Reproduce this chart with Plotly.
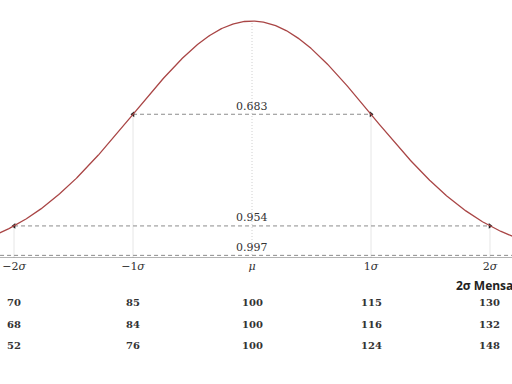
import numpy as np
import plotly.graph_objects as go

# ---- data ----
sigma_ticks = [-2, -1, 0, 1, 2]
tick_labels = ["\u22122<i>σ</i>", "\u22121<i>σ</i>", "<i>μ</i>", "1<i>σ</i>", "2<i>σ</i>"]
row_sd15 = [70, 85, 100, 115, 130]
row_sd16 = [68, 84, 100, 116, 132]
row_sd24 = [52, 76, 100, 124, 148]
interval_halfwidths = [1, 2, 3]
interval_labels = ["0.683", "0.954", "0.997"]
row_title = "2σ Mensa"

def pdf(z):
    return np.exp(-0.5 * np.asarray(z, dtype=float) ** 2) / np.sqrt(2 * np.pi)

XMIN, XMAX = -2.118, 2.185
YMAX = 0.43429

fig = go.Figure()

# vertical guide lines at ±1σ, ±2σ
for s in sigma_ticks:
    if s == 0:
        continue
    fig.add_trace(go.Scatter(x=[s, s], y=[0, float(pdf(s))], mode="lines",
                             line=dict(color="#e6e6e6", width=1), hoverinfo="skip", showlegend=False))
# dotted mean line
fig.add_trace(go.Scatter(x=[0, 0], y=[0, float(pdf(0))], mode="lines",
                         line=dict(color="#d0d0d0", width=1, dash="1px,2px"), hoverinfo="skip", showlegend=False))

# interval dashed lines with arrowheads
for k, lab in zip(interval_halfwidths, interval_labels):
    yk = float(pdf(k))
    fig.add_trace(go.Scatter(x=[-k, k], y=[yk, yk], mode="lines",
                             line=dict(color="#8c8c8c", width=1, dash="4px,3px"), hoverinfo="skip", showlegend=False))
    fig.add_trace(go.Scatter(x=[-k, k], y=[yk, yk], mode="markers",
                             marker=dict(symbol=["triangle-left", "triangle-right"], size=5, color="#222222"),
                             hoverinfo="skip", showlegend=False))
    fig.add_annotation(x=0, y=yk, text=lab, showarrow=False, yshift=8,
                       font=dict(family="DejaVu Serif", size=11, color="#333333"))

# bell curve
xs = np.linspace(XMIN - 0.05, XMAX + 0.05, 600)
fig.add_trace(go.Scatter(x=xs, y=pdf(xs), mode="lines",
                         line=dict(color="#a94545", width=1.3), hoverinfo="skip", showlegend=False))

# table rows below axis
row_offsets = [-44, -66, -87]
for row, off in zip([row_sd15, row_sd16, row_sd24], row_offsets):
    for s, v in zip(sigma_ticks, row):
        fig.add_annotation(x=s, y=0, yref="y", text="<b>" + str(v) + "</b>", showarrow=False, yshift=off,
                           font=dict(family="DejaVu Serif", size=10, color="#333333"))
fig.add_annotation(x=1.70, y=0, xanchor="left", text="<b>" + row_title + "</b>", showarrow=False, yshift=-27,
                   font=dict(family="Open Sans", size=12, color="#222222"))

fig.update_layout(
    width=512, height=384,
    margin=dict(l=0, r=0, t=0, b=126),
    paper_bgcolor="white", plot_bgcolor="white",
    xaxis=dict(range=[XMIN, XMAX], showgrid=False, zeroline=False, showline=False,
               tickvals=sigma_ticks, ticktext=tick_labels, ticks="",
               tickfont=dict(family="DejaVu Serif", size=11, color="#333333")),
    yaxis=dict(range=[0, YMAX], showgrid=False, zeroline=False, showticklabels=False, showline=False),
    shapes=[dict(type="line", xref="paper", yref="y", x0=0, x1=1, y0=0, y1=0,
                 line=dict(color="#666666", width=1))],
)

fig.write_html("out.html")
